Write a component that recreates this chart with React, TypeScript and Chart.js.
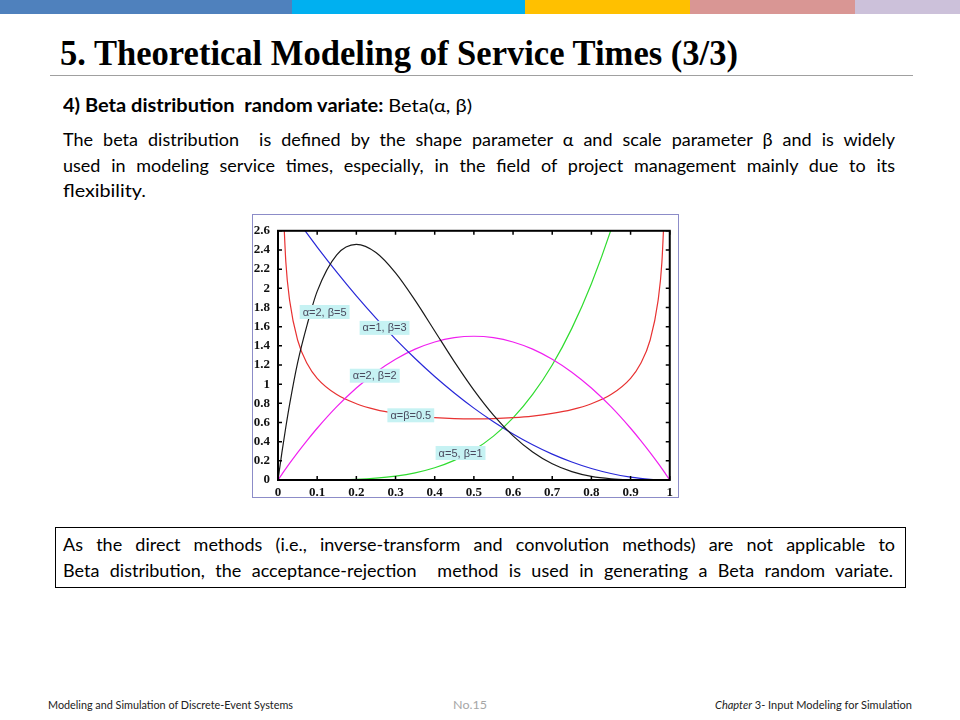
import React, { useEffect, useLayoutEffect, useRef } from "react";
import { Chart, registerables } from "chart.js";
Chart.register(...registerables);

const xValues = [0, 0.01, 0.02, 0.03, 0.05, 0.075, 0.1, 0.15, 0.2, 0.25, 0.3, 0.35, 0.4, 0.45, 0.5, 0.55, 0.6, 0.65, 0.7, 0.75, 0.8, 0.85, 0.9, 0.925, 0.95, 0.97, 0.98, 0.99, 1];
const beta25 = [0, 0.288, 0.553, 0.797, 1.222, 1.629, 1.968, 2.349, 2.458, 2.373, 2.161, 1.874, 1.555, 1.235, 0.938, 0.677, 0.461, 0.293, 0.17, 0.088, 0.038, 0.013, 0.003, 0.001, 0, 0, 0, 0, 0];
const beta13 = [3, 2.94, 2.881, 2.823, 2.708, 2.567, 2.43, 2.168, 1.92, 1.688, 1.47, 1.268, 1.08, 0.908, 0.75, 0.608, 0.48, 0.368, 0.27, 0.188, 0.12, 0.068, 0.03, 0.017, 0.008, 0.003, 0.001, 0, 0];
const beta22 = [0, 0.059, 0.118, 0.175, 0.285, 0.416, 0.54, 0.765, 0.96, 1.125, 1.26, 1.365, 1.44, 1.485, 1.5, 1.485, 1.44, 1.365, 1.26, 1.125, 0.96, 0.765, 0.54, 0.416, 0.285, 0.175, 0.118, 0.059, 0];
const betaHalf = [null, 3.199, 2.274, 1.866, 1.461, 1.21, 1.061, 0.891, 0.796, 0.735, 0.695, 0.667, 0.65, 0.64, 0.637, 0.64, 0.65, 0.667, 0.695, 0.735, 0.796, 0.891, 1.061, 1.21, 1.461, 1.866, 2.274, 3.199, null];
const beta51 = [0, 0, 0, 0, 0, 0, 0.0005, 0.003, 0.008, 0.02, 0.041, 0.075, 0.128, 0.205, 0.313, 0.458, 0.648, 0.893, 1.2, 1.582, 2.048, 2.61, 3.28, 3.66, 4.07, 4.43, 4.61, 4.8, 5];

const seriesNames = ["α=2, β=5", "α=1, β=3", "α=2, β=2", "α=β=0.5", "α=5, β=1"];
const seriesColors = ["#1a1a1a", "#2828d8", "#f020f0", "#e83232", "#30dc30"];
// label anchors (data coordinates)
const labelX = [0.119, 0.272, 0.247, 0.339, 0.466];
const labelY = [1.753, 1.587, 1.088, 0.675, 0.282];

const framePlugin = {
  id: "frameAndLabels",
  afterDatasetsDraw(chart: any) {
    const ctx = chart.ctx;
    const { left, right, top, bottom } = chart.chartArea;
    const xs = chart.scales.x;
    const ys = chart.scales.y;
    ctx.save();
    ctx.strokeStyle = "#000";
    ctx.lineWidth = 1.5;
    ctx.beginPath();
    xs.ticks.forEach((t: any) => {
      const px = xs.getPixelForValue(t.value);
      ctx.moveTo(px, bottom);
      ctx.lineTo(px, bottom - 4);
      ctx.moveTo(px, top);
      ctx.lineTo(px, top + 4);
    });
    ys.ticks.forEach((t: any) => {
      const py = ys.getPixelForValue(t.value);
      ctx.moveTo(left, py);
      ctx.lineTo(left + 4, py);
      ctx.moveTo(right, py);
      ctx.lineTo(right - 4, py);
    });
    ctx.stroke();
    ctx.lineWidth = 2;
    ctx.strokeRect(left, top, right - left, bottom - top);
    ctx.font = "11px 'Liberation Sans', Arial, sans-serif";
    ctx.textAlign = "center";
    ctx.textBaseline = "middle";
    seriesNames.forEach((name, i) => {
      const cx = xs.getPixelForValue(labelX[i]);
      const cy = ys.getPixelForValue(labelY[i]);
      const w = ctx.measureText(name).width + 6;
      ctx.fillStyle = "#c6f2f3";
      ctx.fillRect(cx - w / 2, cy - 7, w, 14);
      ctx.fillStyle = "#4a4a5e";
      ctx.fillText(name, cx, cy + 0.5);
    });
    ctx.restore();
  },
};

const fmtTick = (v: any) => String(Math.round(Number(v) * 10) / 10);

function BetaChart() {
  const ref = useRef<HTMLCanvasElement>(null);
  useEffect(() => {
    const c = ref.current;
    if (!c) return;
    const allY = [beta25, beta13, beta22, betaHalf, beta51];
    const datasets = allY.map((ys, i) => ({
      label: seriesNames[i],
      data: xValues.map((x, j) => ({ x, y: ys[j] })),
      borderColor: seriesColors[i],
      borderWidth: 1.2,
      pointRadius: 0,
      fill: false,
      cubicInterpolationMode: "monotone" as const,
    }));
    const tickFont = { family: "'Liberation Serif', 'Times New Roman', serif", size: 13, weight: "bold" as const };
    const chart = new Chart(c, {
      type: "line",
      data: { datasets },
      options: {
        animation: false,
        responsive: false,
        devicePixelRatio: 1,
        layout: { padding: { left: 0, right: 5, top: 7, bottom: 0 } },
        plugins: { legend: { display: false }, tooltip: { enabled: false } },
        scales: {
          x: {
            type: "linear",
            min: 0,
            max: 1,
            ticks: { stepSize: 0.1, font: tickFont, color: "#111", padding: 5, maxRotation: 0, autoSkip: false, callback: fmtTick },
            grid: { display: false, drawTicks: false },
            border: { display: false },
            afterFit: (s: any) => {
              s.height = 17;
            },
          },
          y: {
            type: "linear",
            min: 0,
            max: 2.6,
            ticks: { stepSize: 0.2, font: tickFont, color: "#111", padding: 8, autoSkip: false, callback: fmtTick },
            grid: { display: false, drawTicks: false },
            border: { display: false },
            afterFit: (s: any) => {
              s.width = 25;
            },
          },
        },
      },
      plugins: [framePlugin],
    });
    return () => chart.destroy();
  }, []);
  return <canvas ref={ref} width={425} height={282} style={{ display: "block", width: 425, height: 282 }} />;
}

type LineProps = {
  x: number;
  base: number;
  size: number;
  family: string;
  asc: number;
  width?: number;
  mode?: "scale" | "justify" | "none";
  weight?: any;
  color?: string;
  children: React.ReactNode;
};

function Line({ x, base, size, family, asc, width, mode = "none", weight = "normal", color = "#000", children }: LineProps) {
  const ref = useRef<HTMLSpanElement>(null);
  useLayoutEffect(() => {
    const el = ref.current;
    if (!el || !width || mode === "none") return;
    let alive = true;
    const fit = () => {
      if (!alive) return;
      el.style.transform = "none";
      el.style.wordSpacing = "0px";
      const w = el.getBoundingClientRect().width;
      if (!w) return;
      if (mode === "scale") {
        el.style.transform = `scaleX(${width / w})`;
      } else {
        const spaces = (el.textContent || "").split(" ").length - 1;
        const extra = width - w;
        if (extra > 0 && spaces > 0) el.style.wordSpacing = `${extra / spaces}px`;
        else el.style.transform = `scaleX(${width / w})`;
      }
    };
    fit();
    if ((document as any).fonts) (document as any).fonts.ready.then(fit);
    return () => {
      alive = false;
    };
  }, [width, mode]);
  return (
    <span
      ref={ref}
      style={{
        position: "absolute",
        left: x,
        top: base - asc * size,
        fontFamily: family,
        fontSize: size,
        lineHeight: `${size}px`,
        whiteSpace: "pre",
        transformOrigin: "0 0",
        fontWeight: weight,
        color,
      }}
    >
      {children}
    </span>
  );
}

const BODY = "Lato, 'Open Sans', sans-serif";
const BODY_ASC = 0.887;
const SERIF = "'Liberation Serif', 'Times New Roman', serif";
const SERIF_ASC = 0.837;
const BS = 18;

const barColors = ["#4f81bd", "#00b0f0", "#ffc000", "#d99694", "#ccc1da"];
const barEdges = [0, 292, 525, 690, 855, 960];

export default function App() {
  return (
    <div style={{ position: "absolute", left: 0, top: 0, width: 960, height: 720, background: "#fff", overflow: "hidden" }}>
      {barColors.map((c, i) => (
        <div key={i} style={{ position: "absolute", top: 0, height: 14, left: barEdges[i], width: barEdges[i + 1] - barEdges[i], background: c }} />
      ))}
      <Line x={60} base={65} size={36} family={SERIF} asc={SERIF_ASC} width={678} mode="scale" weight="bold">
        5. Theoretical Modeling of Service Times (3/3)
      </Line>
      <div style={{ position: "absolute", left: 50, top: 75, width: 863, height: 1, background: "#a0a0a0" }} />

      <Line x={63} base={112} size={BS} family={BODY} asc={BODY_ASC} width={409} mode="scale">
        <span style={{ fontWeight: "bold" }}>{"4) Beta distribution  random variate: "}</span>
        <span>Beta(α, β)</span>
      </Line>
      <Line x={63} base={146} size={BS} family={BODY} asc={BODY_ASC} width={832} mode="justify">
        {"The beta distribution  is defined by the shape parameter α and scale parameter β and is widely"}
      </Line>
      <Line x={63} base={171.5} size={BS} family={BODY} asc={BODY_ASC} width={832} mode="justify">
        {"used in modeling service times, especially, in the field of project management mainly due to its"}
      </Line>
      <Line x={63} base={197} size={BS} family={BODY} asc={BODY_ASC} width={83} mode="scale">
        flexibility.
      </Line>

      <div style={{ position: "absolute", left: 252, top: 214, width: 427, height: 284, border: "1px solid #8c8cc8", boxSizing: "border-box", background: "#fff" }}>
        <BetaChart />
      </div>

      <div style={{ position: "absolute", left: 55, top: 527, width: 851, height: 61, border: "1px solid #000", boxSizing: "border-box" }} />
      <Line x={63} base={551} size={BS} family={BODY} asc={BODY_ASC} width={832} mode="justify">
        {"As the direct methods (i.e., inverse-transform and convolution methods) are not applicable to"}
      </Line>
      <Line x={63} base={577} size={BS} family={BODY} asc={BODY_ASC} width={830} mode="justify">
        {"Beta distribution, the acceptance-rejection  method is used in generating a Beta random variate."}
      </Line>

      <Line x={48} base={709} size={10.5} family={BODY} asc={BODY_ASC} width={245} mode="scale" color="#222">
        Modeling and Simulation of Discrete-Event Systems
      </Line>
      <Line x={453} base={710} size={12} family={BODY} asc={BODY_ASC} width={34} mode="scale" color="#a6a6a6">
        No.15
      </Line>
      <Line x={715} base={709} size={10.5} family={BODY} asc={BODY_ASC} width={197} mode="scale" color="#222">
        <span style={{ fontStyle: "italic" }}>Chapter</span>
        <span>{" 3- Input Modeling for Simulation"}</span>
      </Line>
    </div>
  );
}
